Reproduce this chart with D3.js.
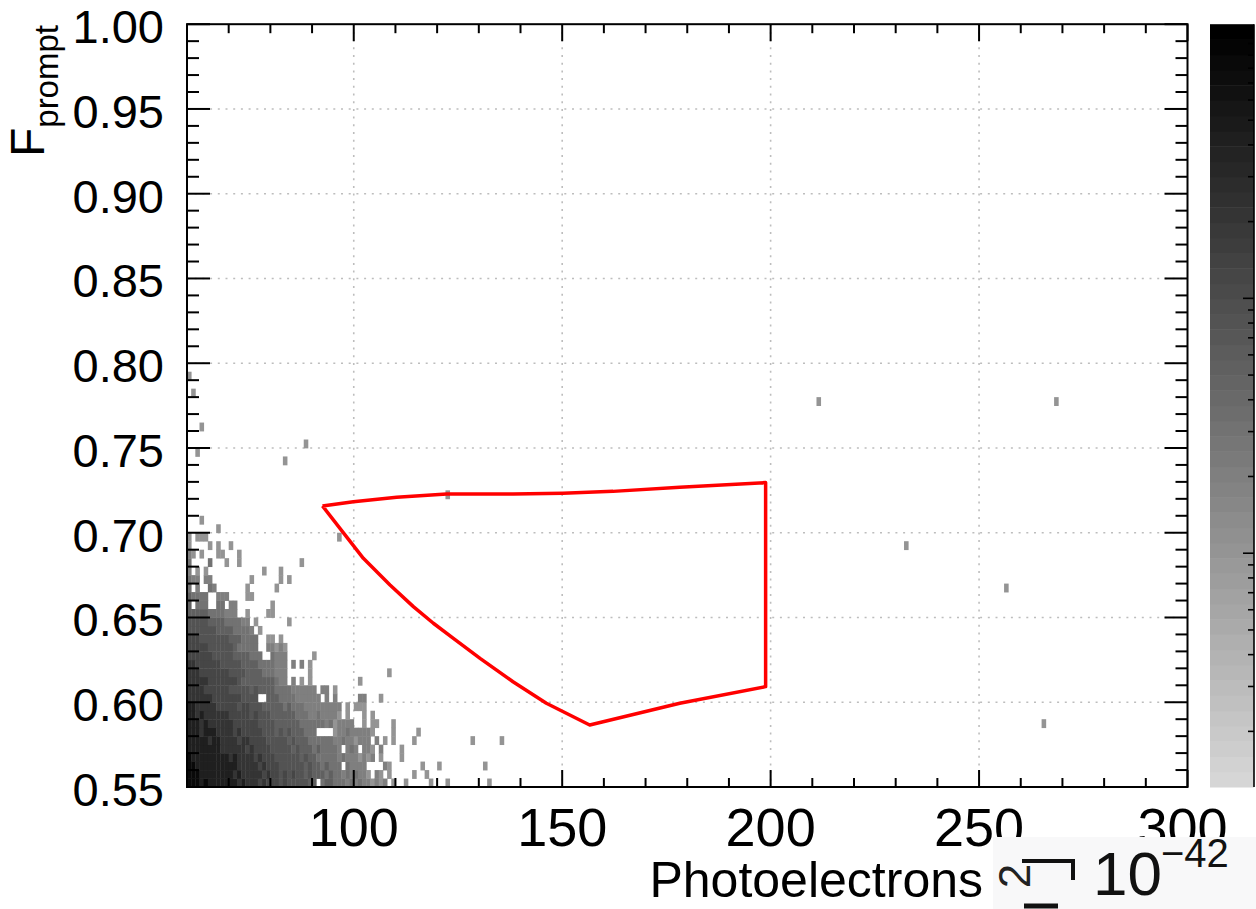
<!DOCTYPE html>
<html>
<head>
<meta charset="utf-8">
<script src="https://cdn.jsdelivr.net/npm/d3@7"></script>
<style>
  body { margin: 0; background: #fff; }
  svg { display: block; font-family: "Liberation Sans", Arial, Helvetica, sans-serif; }
</style>
</head>
<body>
<div id="chart"></div>
<script>
// binning of the 2D histogram
const peMin = 60, peMax = 300, peBin = 1
const fMin = 0.55, fMax = 1.00, fBin = 0.005

// count behind each level symbol used in denseRows
const levelCounts = [0, 1, 2, 3, 5, 8, 13, 22, 40, 80]

// row j -> F = 0.55 + j*0.005 ; char k -> PE = 60 + k ; '.' = empty
const denseRows = [
  "9998988888" + "8878777676" + "6656555554" + "4.34433323" + "23221212.1" + "..1.....1...1",
  "9998888888" + "8787777767" + "6656565545" + "4443433232" + "3221.21.1." + "....1..1",
  "9988888888" + "8877777676" + "6655555545" + "4434333.32" + "222....21." + "......1...1",
  "9888888888" + "7877776766" + "6555555454" + "4333332322" + "21212.1..." + ".1",
  "8888888877" + "7777676666" + "5555545444" + "3433332.23" + "2.221.2..." + ".1",
  "8888878877" + "7767766665" + "5555454443" + "3333322322" + "1222.2.1.1" + "....1",
  "8887888777" + "7676666655" + "5454544433" + "3....12232" + "22221....1" + ".....1",
  "8887877777" + "7666666555" + "5444444333" + "3332312222" + "..1.11...1",
  "8878777777" + "6666656555" + "4444443332" + "2322221.1." + "..1.1",
  "8877777666" + "6656655544" + "4443433322" + "2222222.1." + "111",
  "7777776666" + "6665555..4" + "4433332222" + "22.2.2...." + ".22...1",
  "7777666666" + "5555545444" + "4333322222" + "2.22.1",
  "7777766666" + "6654444444" + "4322.2.1.1" + ".........." + ".1",
  "7776666666" + "5555444433" + "3222.....1" + ".........." + "........1",
  "7766666655" + "5554444333" + "3222.2.2.1",
  "6666665555" + "54444333.." + "3222......" + "1",
  "6666655555" + "5433333..2" + "2121",
  "6665555555" + "4443333..1" + "1.1",
  "5555555444" + "433332.1",
  "5555544443" + "33322.1..." + "....1",
  "4444433332" + "22..1....1" + "1",
  "4.333..33." + "22........" + "1",
  "43333..222" + "....11",
  "3.2..32..." + "....1....." + ".1",
  "322.22...." + ".....1...." + "..1.1",
  "2.1.1....." + "........1." + "..1",
  "3....3...1" + "..1......." + ".......1",
  "21.1...11." + "..1",
  "1....1.1.." + "1",
  "1.111",
  ".......1",
  "...1"
]

// single-count bins outside the dense block [PE, F]
const outliers = [
  [60, 0.79], [61, 0.78], [63, 0.76], [62, 0.745], [83, 0.74], [88, 0.75],
  [96, 0.695], [122, 0.72], [128, 0.575], [135, 0.575], [131, 0.56], [132, 0.55],
  [211, 0.775], [268, 0.775], [232, 0.69], [256, 0.665], [265, 0.585]
]

// red selection contour
const cutPE = [92.5, 99.9, 110.3, 122.3, 138.2, 150.2, 162.2, 178.2, 198.8, 198.8, 178.2, 156.6,
               146.2, 138.2, 130.3, 123.9, 119.1, 114.3, 108.7, 102.3, 92.5]
const cutF  = [0.7158, 0.7183, 0.7209, 0.7228, 0.7228, 0.7233, 0.7244, 0.7268, 0.7296, 0.6092, 0.5994, 0.5866,
               0.5994, 0.6121, 0.6259, 0.6377, 0.6466, 0.6564, 0.6692, 0.6849, 0.7158]

const xTicks = [100, 150, 200, 250, 300]
const xTickLabels = ["100", "150", "200", "250", "300"]
const yTicks = [0.55, 0.60, 0.65, 0.70, 0.75, 0.80, 0.85, 0.90, 0.95, 1.00]
const yTickLabels = ["0.55", "0.60", "0.65", "0.70", "0.75", "0.80", "0.85", "0.90", "0.95", "1.00"]

// colour axis range (log)
const zMin = 0.121, zMax = 119

const width = 1256, height = 909
const plot = {left: 187, right: 1187.5, top: 24.2, bottom: 787}
const bar = {left: 1210, right: 1254}

const svg = d3.select("#chart").append("svg")
    .attr("width", width)
    .attr("height", height)

const x = d3.scaleLinear().domain([peMin, peMax]).range([plot.left, plot.right])
const y = d3.scaleLinear().domain([fMin, fMax]).range([plot.bottom, plot.top])

const nColors = 50
const palette = d3.quantize(d3.interpolateRgb("#d6d6d6", "#000000"), nColors)
const zPos = d3.scaleLog().domain([zMin, zMax]).range([0, nColors]).clamp(true)
const colorOf = v => palette[Math.min(nColors - 1, Math.floor(zPos(v)))]

// grid
const grid = svg.append("g")
    .attr("stroke", "#bdbdbd")
    .attr("stroke-width", 1.6)
    .attr("stroke-dasharray", "2,5.7")
grid.selectAll(".gx").data(xTicks.filter(d => d < peMax)).enter()
    .append("line")
    .attr("x1", d => x(d)).attr("x2", d => x(d))
    .attr("y1", plot.top).attr("y2", plot.bottom)
grid.selectAll(".gy").data(yTicks.filter(d => d > fMin && d < fMax)).enter()
    .append("line")
    .attr("x1", plot.left).attr("x2", plot.right)
    .attr("y1", d => y(d)).attr("y2", d => y(d))

// histogram cells
const cells = []
denseRows.forEach((row, j) => {
    for (let k = 0; k < row.length; k++) {
        if (row[k] === ".") continue
        cells.push({pe: peMin + k * peBin, f: fMin + j * fBin, n: levelCounts[+row[k]]})
    }
})
outliers.forEach(d => cells.push({pe: d[0], f: d[1], n: 1}))

svg.append("g")
    .selectAll("rect")
    .data(cells)
    .enter()
    .append("rect")
    .attr("x", d => x(d.pe))
    .attr("y", d => y(d.f + fBin))
    .attr("width", d => x(d.pe + peBin) - x(d.pe) + 0.4)
    .attr("height", d => y(d.f) - y(d.f + fBin) + 0.4)
    .attr("fill", d => colorOf(d.n))

// selection contour
const cutLine = d3.line()
    .x((d, i) => x(cutPE[i]))
    .y((d, i) => y(cutF[i]))
svg.append("path")
    .attr("d", cutLine(cutPE))
    .attr("fill", "none")
    .attr("stroke", "#ff0000")
    .attr("stroke-width", 3.5)
    .attr("stroke-linejoin", "round")

// frame and ticks
svg.append("rect")
    .attr("x", plot.left).attr("y", plot.top)
    .attr("width", plot.right - plot.left).attr("height", plot.bottom - plot.top)
    .attr("fill", "none").attr("stroke", "#000").attr("stroke-width", 2)

const ticks = svg.append("g").attr("stroke", "#000").attr("stroke-width", 2)
const xMinor = d3.range(peMin, peMax + 0.1, 10)
const yMinor = d3.range(0, 46).map(i => fMin + i * 0.01)
const isMajorX = v => xTicks.includes(v)
const isMajorY = v => yTicks.some(t => Math.abs(t - v) < 1e-6)

ticks.selectAll(".tb").data(xMinor).enter().append("line")
    .attr("x1", d => x(d)).attr("x2", d => x(d))
    .attr("y1", plot.bottom).attr("y2", d => plot.bottom - (isMajorX(d) ? 17 : 9))
ticks.selectAll(".tt").data(xMinor).enter().append("line")
    .attr("x1", d => x(d)).attr("x2", d => x(d))
    .attr("y1", plot.top).attr("y2", d => plot.top + (isMajorX(d) ? 17 : 9))
ticks.selectAll(".tl").data(yMinor).enter().append("line")
    .attr("y1", d => y(d)).attr("y2", d => y(d))
    .attr("x1", plot.left).attr("x2", d => plot.left + (isMajorY(d) ? 23 : 12))
ticks.selectAll(".tr").data(yMinor).enter().append("line")
    .attr("y1", d => y(d)).attr("y2", d => y(d))
    .attr("x1", plot.right).attr("x2", d => plot.right - (isMajorY(d) ? 23 : 12))

// tick labels
svg.append("g").selectAll("text").data(yTicks).enter().append("text")
    .attr("x", 164)
    .attr("y", d => y(d) + 19)
    .attr("text-anchor", "end")
    .attr("font-size", 47)
    .text((d, i) => yTickLabels[i])

svg.append("g").selectAll("text").data(xTicks).enter().append("text")
    .attr("x", d => x(d) - (d === peMax ? 5 : 0))
    .attr("y", 846)
    .attr("text-anchor", "middle")
    .attr("font-size", 54)
    .text((d, i) => xTickLabels[i])

// axis titles
svg.append("text")
    .attr("x", 983).attr("y", 897)
    .attr("text-anchor", "end")
    .attr("font-size", 50)
    .text("Photoelectrons")

const yTitle = svg.append("text")
    .attr("transform", "translate(44,25) rotate(-90)")
    .attr("text-anchor", "end")
yTitle.append("tspan").attr("font-size", 48).text("F")
yTitle.append("tspan").attr("font-size", 33).attr("dy", 14).text("prompt")

// colour bar
const zY = d3.scaleLog().domain([zMin, zMax]).range([plot.bottom, plot.top])
svg.append("g").selectAll("rect")
    .data(d3.range(nColors))
    .enter()
    .append("rect")
    .attr("x", bar.left)
    .attr("width", bar.right - bar.left)
    .attr("y", i => zY(zPos.invert(i + 1)))
    .attr("height", i => zY(zPos.invert(i)) - zY(zPos.invert(i + 1)) + 0.5)
    .attr("fill", i => palette[i])

const zTicks = zY.ticks()
const zMajor = v => Math.abs(Math.log10(v) - Math.round(Math.log10(v))) < 1e-9 && v < 50
const cbAxis = svg.append("g").attr("stroke", "#000").attr("stroke-width", 1.6)
cbAxis.append("line")
    .attr("x1", bar.right).attr("x2", bar.right)
    .attr("y1", plot.top).attr("y2", plot.bottom)
cbAxis.selectAll(".zt").data(zTicks).enter().append("line")
    .attr("y1", d => zY(d)).attr("y2", d => zY(d))
    .attr("x1", bar.right).attr("x2", d => bar.right - (zMajor(d) ? 11 : 6))

// pasted exponent patch at bottom right
const patch = svg.append("g")
patch.append("rect")
    .attr("x", 993).attr("y", 837)
    .attr("width", width - 993).attr("height", height - 837)
    .attr("fill", "#f8f8f9")
patch.append("text")
    .attr("transform", "translate(1030,876) rotate(-90)")
    .attr("text-anchor", "middle")
    .attr("font-size", 44)
    .attr("fill", "#222")
    .text("2")
patch.append("path")
    .attr("d", "M1022,861 H1073 V880")
    .attr("fill", "none").attr("stroke", "#111").attr("stroke-width", 4)
patch.append("path")
    .attr("d", "M1024,906 H1058")
    .attr("fill", "none").attr("stroke", "#111").attr("stroke-width", 5)
patch.append("text")
    .attr("x", 1093).attr("y", 895)
    .attr("font-size", 62)
    .attr("fill", "#111")
    .text("10")
patch.append("text")
    .attr("x", 1161).attr("y", 867)
    .attr("font-size", 40)
    .attr("fill", "#111")
    .text("\u221242")
</script>
</body>
</html>
